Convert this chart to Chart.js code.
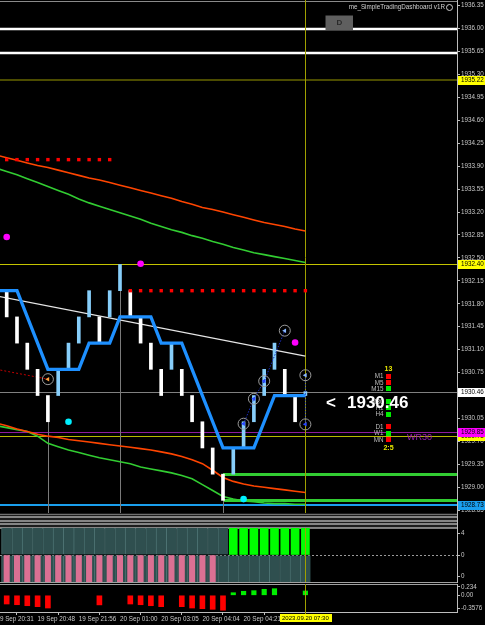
<!DOCTYPE html>
<html>
<head>
<meta charset="utf-8">
<title>XAUUSD renko</title>
<script src="https://cdn.jsdelivr.net/npm/chart.js@4.4.1/dist/chart.umd.min.js"></script>
<style>
  html, body { margin: 0; padding: 0; background: #000; }
  body { width: 485px; height: 625px; position: relative; overflow: hidden; }
  canvas { position: absolute; left: 0; }
</style>
</head>
<body>
<canvas id="priceChart" width="485" height="515" style="top:0"></canvas>
<canvas id="histChart" width="485" height="70" style="top:513px"></canvas>
<canvas id="oscChart" width="485" height="42" style="top:583px"></canvas>
<script>
// renko bricks, bar 0..29 (box 0.40)
var brickOpen  = [1932.00,1931.60,1931.20,1930.80,1930.40,1930.40,1930.80,1931.20,1931.60,1931.60,1931.60,1932.00,1932.00,1931.60,1931.20,1930.80,1930.80,1930.80,1930.40,1930.00,1929.60,1929.20,1929.20,1929.60,1930.00,1930.40,1930.80,1930.80,1930.40,1930.40];
var brickClose = [1931.60,1931.20,1930.80,1930.40,1930.00,1930.80,1931.20,1931.60,1932.00,1931.20,1932.00,1932.40,1931.60,1931.20,1930.80,1930.40,1931.20,1930.40,1930.00,1929.60,1929.20,1928.80,1929.60,1930.00,1930.40,1930.80,1931.20,1930.40,1930.00,1930.46];

// bars for the lines, -1 is just off the left edge
var lineBars = [];
for (var b = -1; b <= 29; b++) lineBars.push(b);

var stepLine   = [1932.00,1932.00,1932.00,1931.60,1931.20,1930.80,1930.80,1930.80,1930.80,1931.20,1931.20,1931.20,1931.60,1931.60,1931.60,1931.60,1931.20,1931.20,1931.20,1930.80,1930.40,1930.00,1929.60,1929.60,1929.60,1929.60,1930.00,1930.40,1930.40,1930.40,1930.40];
var maSlowHigh = [1934.07,1934.03,1933.99,1933.95,1933.91,1933.88,1933.84,1933.80,1933.76,1933.72,1933.69,1933.65,1933.61,1933.57,1933.53,1933.49,1933.45,1933.41,1933.36,1933.32,1933.27,1933.24,1933.20,1933.16,1933.12,1933.08,1933.04,1933.01,1932.98,1932.94,1932.91];
var maFastHigh = [1933.87,1933.82,1933.77,1933.71,1933.65,1933.59,1933.53,1933.47,1933.40,1933.34,1933.29,1933.24,1933.19,1933.14,1933.09,1933.03,1932.98,1932.93,1932.89,1932.84,1932.80,1932.75,1932.71,1932.66,1932.62,1932.58,1932.55,1932.52,1932.49,1932.46,1932.43];
var maSlowLow  = [1929.98,1929.94,1929.89,1929.85,1929.81,1929.78,1929.76,1929.73,1929.71,1929.69,1929.67,1929.65,1929.63,1929.61,1929.59,1929.57,1929.54,1929.51,1929.47,1929.42,1929.36,1929.26,1929.15,1929.09,1929.05,1929.02,1929.00,1928.98,1928.96,1928.94,1928.92];
var maFastLow  = [1929.94,1929.91,1929.88,1929.85,1929.78,1929.67,1929.62,1929.57,1929.53,1929.49,1929.45,1929.42,1929.39,1929.36,1929.31,1929.28,1929.25,1929.22,1929.18,1929.13,1929.04,1928.95,1928.86,1928.82,1928.79,1928.78,1928.76,1928.75,1928.75,1928.74,1928.74];
var trendBars = [-1, 29];
var trendVals = [1931.92, 1931.00];

// red dotted levels (null = no dot)
var dotLevel = [1934.00,1934.00,1934.00,1934.00,1934.00,1934.00,1934.00,1934.00,1934.00,1934.00,1934.00,null,
                1932.00,1932.00,1932.00,1932.00,1932.00,1932.00,1932.00,1932.00,1932.00,1932.00,1932.00,1932.00,1932.00,1932.00,1932.00,1932.00,1932.00,1932.00];

var magentaBars = [0, 13, 28];
var magentaVals = [1932.82, 1932.41, 1931.21];
var cyanBars = [6, 23];
var cyanVals = [1930.00, 1928.82];
var ringBars = [4, 23, 24, 25, 27, 29, 29];
var ringVals = [1930.65, 1929.97, 1930.35, 1930.62, 1931.39, 1930.71, 1929.96];
var ringFill = ['#ffa040','#2845ff','#2845ff','#2845ff','#8ab8ff','#8ab8ff','#2845ff'];
var pathBars = [23, 24, 25, 27];
var pathVals = [1929.97, 1930.35, 1930.62, 1931.39];
var dropBars = [29, 29];
var dropVals = [1930.71, 1929.96];
var leadBars = [-1, 4];
var leadVals = [1930.80, 1930.65];

// horizontal levels
var levelPrices = [1936.00, 1935.62, 1935.22, 1932.40, 1930.46, 1929.85, 1929.78, 1928.73];
var levelColors = ['#ffffff','#ffffff','#666600','#c4c400','#808080','#8e1a9e','#b8b800','#1a9fee'];
var levelWidths = [2.5, 2.5, 1.5, 1, 1, 1, 1, 2];
var boxLevels = [1929.20, 1928.80];
var boxFrom = 21;
var markBars = [4, 11, 21];
var markFrom = [1930.00, 1932.40, 1928.80];
var cursorBar = 29;

var tagPrices = [1935.22, 1932.40, 1930.46, 1929.78, 1929.85, 1928.73];
var tagColors = ['#ffff00','#ffff00','#ffffff','#ffff00','#ff00ff','#1a9fee'];

var priceTicks = [1928.65,1929.00,1929.35,1929.70,1930.05,1930.40,1930.75,1931.10,1931.45,1931.80,1932.15,1932.50,1932.85,1933.20,1933.55,1933.90,1934.25,1934.60,1934.95,1935.30,1935.65,1936.00,1936.35];

// dashboard
var dashRows  = ['M1','M5','M15','','M30','H1','H4','','D1','W1','MN'];
var dashState = [-1,-1,1,0,1,1,1,0,-1,1,-1];

// histogram window
var histTopGreen = [0,0,0,0,0,0,0,0,0,0,0,0,0,0,0,0,0,0,0,0,0,0,1,1,1,1,1,1,1,1];
var histLowPink  = [1,1,1,1,1,1,1,1,1,1,1,1,1,1,1,1,1,1,1,1,1,0,0,0,0,0,0,0,0,0];
var histFull = 5;
var histTicks = [4, 0, -4];
var histTickText = ['4', '0', '0'];

// oscillator window
var oscVals = [-0.245,-0.265,-0.293,-0.320,-0.358,null,null,null,null,-0.270,null,null,-0.245,-0.265,-0.293,-0.320,null,-0.320,-0.358,-0.377,-0.394,-0.420,0.073,0.113,0.130,0.169,0.186,null,null,0.121];
var oscTicks = [0.234, 0, -0.3576];
var oscTickText = ['0.234', '0.00', '-0.3576'];

var timeBars = [-1, 3, 7, 11, 15, 19, 23, 27];
var timeLabels = ['19 Sep 20:31','19 Sep 20:48','19 Sep 21:56','20 Sep 01:00','20 Sep 03:05','20 Sep 04:04','20 Sep 04:21',''];
var cursorTime = '2023.09.20 07:30';

var X_MIN = -0.65, X_MAX = 43.72, AXIS_W = 28;
var FONT = '"Liberation Sans"';
var axisFont = {family: 'Liberation Sans', size: 6.3};

function pts(bars, vals) {
  return vals.map(function (v, i) { return {x: bars[i], y: v}; });
}

function xAxis() {
  return {type: 'linear', min: X_MIN, max: X_MAX, offset: false, display: false, grid: {display: false}};
}

function yAxis(min, max, ticks, text) {
  return {
    type: 'linear', position: 'right', min: min, max: max,
    afterBuildTicks: function (s) { s.ticks = ticks.map(function (v) { return {value: v}; }); },
    afterFit: function (s) { s.width = AXIS_W; s.paddingTop = 0; s.paddingBottom = 0; },
    ticks: {
      autoSkip: false, color: '#c8c8c8', font: axisFont, padding: 1,
      callback: function (v, i) { return text ? text[i] : v.toFixed(2); }
    },
    grid: {drawOnChartArea: false, color: '#bdbdbd', tickLength: 3},
    border: {color: '#bdbdbd'}
  };
}

function hline(ctx, x1, x2, y, color, w) {
  ctx.beginPath();
  ctx.strokeStyle = color;
  ctx.lineWidth = w;
  var yy = w % 2 === 1 ? Math.round(y) + 0.5 : Math.round(y);
  ctx.moveTo(x1, yy);
  ctx.lineTo(x2, yy);
  ctx.stroke();
}

function vline(ctx, x, y1, y2, color, w) {
  ctx.beginPath();
  ctx.strokeStyle = color;
  ctx.lineWidth = w;
  var xx = Math.round(x) + 0.5;
  ctx.moveTo(xx, y1);
  ctx.lineTo(xx, y2);
  ctx.stroke();
}

var baseOptions = {
  responsive: false, animation: false, events: [],
  plugins: {legend: {display: false}, tooltip: {enabled: false}}
};

// ---------- main price window ----------
var priceOverlay = {
  id: 'priceOverlay',
  beforeDatasetsDraw: function (chart) {
    var ctx = chart.ctx, a = chart.chartArea, x = chart.scales.x, y = chart.scales.y;
    ctx.save();
    hline(ctx, a.left, a.right, 1, '#8a8a8a', 1);
    levelPrices.forEach(function (p, i) {
      hline(ctx, a.left, a.right, y.getPixelForValue(p), levelColors[i], levelWidths[i]);
    });
    boxLevels.forEach(function (p) {
      hline(ctx, x.getPixelForValue(boxFrom), a.right, y.getPixelForValue(p), '#32cd32', 3);
    });
    markBars.forEach(function (bar, i) {
      vline(ctx, x.getPixelForValue(bar), y.getPixelForValue(markFrom[i]), a.bottom, '#7a7a7a', 1);
    });
    vline(ctx, x.getPixelForValue(cursorBar), a.top, a.bottom, '#a0a000', 1);
    ctx.restore();
  },
  afterDraw: function (chart) {
    var ctx = chart.ctx, a = chart.chartArea, y = chart.scales.y;
    ctx.save();
    // price tags on the axis
    ctx.textBaseline = 'middle';
    ctx.textAlign = 'left';
    tagPrices.forEach(function (p, i) {
      var py = Math.round(y.getPixelForValue(p));
      ctx.fillStyle = tagColors[i];
      ctx.fillRect(a.right + 1, py - 4, AXIS_W - 1, 9);
      ctx.fillStyle = '#000';
      ctx.font = '6.3px ' + FONT;
      ctx.fillText(p.toFixed(2), a.right + 4, py + 0.5);
    });

    // header and button
    ctx.fillStyle = '#d0d0d0';
    ctx.font = '6.3px ' + FONT;
    ctx.textAlign = 'right';
    ctx.fillText('me_SimpleTradingDashboard v1R', 445, 7.5);
    ctx.beginPath();
    ctx.strokeStyle = '#d0d0d0';
    ctx.lineWidth = 1;
    ctx.arc(449.5, 7.5, 3, 0, Math.PI * 2);
    ctx.stroke();
    ctx.fillStyle = '#5f5f5f';
    ctx.fillRect(325.5, 15.5, 27.5, 14.5);
    ctx.fillStyle = '#2a2a2a';
    ctx.font = 'bold 8px ' + FONT;
    ctx.textAlign = 'center';
    ctx.fillText('D', 339.5, 23);

    // dashboard
    ctx.fillStyle = '#e8e800';
    ctx.font = 'bold 7px ' + FONT;
    ctx.fillText('13', 388.5, 369.5);
    ctx.fillText('2:5', 388.5, 448);
    ctx.font = '6.3px ' + FONT;
    ctx.textAlign = 'right';
    dashRows.forEach(function (name, k) {
      var ry = 376 + k * 6.35;
      ctx.fillStyle = '#bdbdbd';
      if (name) ctx.fillText(name, 383.5, ry + 0.5);
      if (dashState[k] !== 0) {
        ctx.fillStyle = dashState[k] > 0 ? '#00ee00' : '#ff0000';
        ctx.fillRect(386, Math.round(ry - 2.4), 5, 5);
      }
    });

    // big price readout
    ctx.fillStyle = '#ffffff';
    ctx.font = 'bold 17px ' + FONT;
    ctx.textAlign = 'left';
    ctx.textBaseline = 'alphabetic';
    ctx.fillText('<', 326, 408);
    ctx.fillText(brickClose[brickClose.length - 1].toFixed(2), 347, 408);

    ctx.fillStyle = '#9b1fb5';
    ctx.font = '9px ' + FONT;
    ctx.fillText('WR30', 407, 440);
    ctx.restore();
  }
};

function lineSet(bars, vals, color, width, order, dash) {
  return {
    type: 'line', data: pts(bars, vals), borderColor: color, borderWidth: width,
    borderDash: dash || [], pointRadius: 0, tension: 0, order: order
  };
}

function dotSet(bars, vals, color, radius, style, order) {
  return {
    type: 'line', data: pts(bars, vals), showLine: false, pointStyle: style,
    pointRadius: radius, pointBackgroundColor: color, pointBorderWidth: 0, order: order
  };
}

var dotBars = dotLevel.map(function (v, i) { return i; });

new Chart(document.getElementById('priceChart'), {
  type: 'line',
  data: {
    datasets: [
      lineSet(lineBars, maSlowHigh, '#ff4500', 1.6, 6),
      lineSet(lineBars, maFastHigh, '#32cd32', 1.6, 6),
      lineSet(lineBars, maSlowLow, '#ff4500', 1.6, 6),
      lineSet(lineBars, maFastLow, '#32cd32', 1.6, 6),
      lineSet(trendBars, trendVals, '#e6e6e6', 1.3, 5),
      lineSet(leadBars, leadVals, '#c00000', 1, 5, [2, 2]),
      {
        type: 'bar',
        data: brickOpen.map(function (o, i) { return {x: i, y: [o, brickClose[i]]}; }),
        backgroundColor: function (c) {
          var i = c.dataIndex;
          return brickClose[i] > brickOpen[i] ? '#87cefa' : '#ffffff';
        },
        barThickness: 3,
        order: 3
      },
      lineSet(lineBars, stepLine, '#1e90ff', 3.3, 2),
      dotSet(dotBars, dotLevel, '#ff0000', 2.4, 'rect', 1),
      dotSet(magentaBars, magentaVals, '#ff00ff', 3.3, 'circle', 1),
      dotSet(cyanBars, cyanVals, '#00f0ff', 3.3, 'circle', 1),
      lineSet(pathBars, pathVals, '#1a2fc0', 1, 1, [1.5, 1.5]),
      lineSet(dropBars, dropVals, '#1a2fc0', 1, 1, [1.5, 1.5]),
      {
        type: 'line', data: pts(ringBars, ringVals), showLine: false, pointStyle: 'circle',
        pointRadius: 5.5, pointBackgroundColor: 'rgba(0,0,0,0)', pointBorderColor: '#9a9a9a',
        pointBorderWidth: 1, order: 0
      },
      {
        type: 'line', data: pts(ringBars, ringVals), showLine: false, pointStyle: 'triangle',
        pointRotation: -90, pointRadius: 2.6, pointBackgroundColor: ringFill, pointBorderWidth: 0, order: -1
      }
    ]
  },
  options: Object.assign({}, baseOptions, {
    layout: {padding: 0, autoPadding: false},
    scales: {x: xAxis(), y: yAxis(1928.577, 1936.436, priceTicks, null)}
  }),
  plugins: [priceOverlay]
});

// ---------- histogram window ----------
var histOverlay = {
  id: 'histOverlay',
  beforeDraw: function (chart) {
    var ctx = chart.ctx, a = chart.chartArea;
    ctx.save();
    ctx.fillStyle = '#1c1c1c';
    ctx.fillRect(0, 0, a.right, 15);
    hline(ctx, 0, a.right, 0.5, '#707070', 1);
    [3.5, 7.5, 11, 14.5].forEach(function (yy) { hline(ctx, 0, a.right, yy, '#a8a8a8', 1.5); });
    vline(ctx, a.right - 0.5, 0, 15, '#bdbdbd', 1);
    hline(ctx, 0, a.right, a.bottom, '#a0a0a0', 1);
    ctx.restore();
  },
  beforeDatasetsDraw: function (chart) {
    var ctx = chart.ctx, a = chart.chartArea, y = chart.scales.y;
    ctx.save();
    ctx.setLineDash([2, 2]);
    hline(ctx, a.left, a.right, y.getPixelForValue(0), '#9a9a9a', 1);
    ctx.restore();
  },
  afterDatasetsDraw: function (chart) {
    var ctx = chart.ctx, a = chart.chartArea;
    ctx.save();
    vline(ctx, chart.scales.x.getPixelForValue(cursorBar), a.top, a.bottom, '#a0a000', 1);
    ctx.restore();
  }
};

function histBars(flags, want, value) {
  return flags.map(function (f, i) { return {x: i, y: f === want ? value : null}; });
}

var slateEdge = {left: 1, right: 0, top: 0, bottom: 0};

new Chart(document.getElementById('histChart'), {
  type: 'bar',
  data: {
    datasets: [
      {data: histBars(histTopGreen, 1, histFull), backgroundColor: '#00ff00', barThickness: 8, grouped: false, order: 0},
      {data: histBars(histTopGreen, 0, histFull), backgroundColor: '#2f4f4f', borderColor: '#4d7373',
       borderWidth: slateEdge, borderSkipped: false, barThickness: 10.3, grouped: false, order: 2},
      {data: histBars(histLowPink, 1, -histFull), backgroundColor: '#db7093', barThickness: 5.4, grouped: false, order: 0},
      {data: histLowPink.map(function (f, i) { return {x: i, y: -histFull}; }), backgroundColor: '#2f4f4f',
       borderColor: '#4d7373', borderWidth: slateEdge, borderSkipped: false, barThickness: 10.3, grouped: false, order: 2}
    ]
  },
  options: Object.assign({}, baseOptions, {
    layout: {padding: {top: 15, bottom: 1, left: 0, right: 0}, autoPadding: false},
    scales: {x: xAxis(), y: yAxis(-5, 5, histTicks, histTickText)}
  }),
  plugins: [histOverlay]
});

// ---------- oscillator window with time axis ----------
var oscOverlay = {
  id: 'oscOverlay',
  beforeDraw: function (chart) {
    var ctx = chart.ctx, a = chart.chartArea;
    ctx.save();
    hline(ctx, 0, a.right, 0.5, '#a0a0a0', 1);
    ctx.restore();
  },
  afterDatasetsDraw: function (chart) {
    var ctx = chart.ctx, a = chart.chartArea;
    ctx.save();
    vline(ctx, chart.scales.x.getPixelForValue(cursorBar), a.top, a.bottom + 2, '#a0a000', 1);
    ctx.restore();
  },
  afterDraw: function (chart) {
    var ctx = chart.ctx, a = chart.chartArea;
    var cx = chart.scales.x.getPixelForValue(cursorBar);
    ctx.save();
    ctx.font = '6px ' + FONT;
    var w = ctx.measureText(cursorTime).width + 5;
    ctx.fillStyle = '#ffff00';
    ctx.fillRect(Math.round(cx - w / 2), a.bottom + 2, Math.round(w), 8);
    ctx.fillStyle = '#000';
    ctx.textAlign = 'center';
    ctx.textBaseline = 'middle';
    ctx.fillText(cursorTime, cx, a.bottom + 6.5);
    ctx.restore();
  }
};

new Chart(document.getElementById('oscChart'), {
  type: 'bar',
  data: {
    datasets: [
      {data: oscVals.map(function (v, i) { return {x: i, y: v !== null && v < 0 ? v : null}; }),
       backgroundColor: '#ff0000', barThickness: 5, grouped: false},
      {data: oscVals.map(function (v, i) { return {x: i, y: v !== null && v > 0 ? v : null}; }),
       backgroundColor: '#00ee00', barThickness: 4.5, grouped: false}
    ]
  },
  options: Object.assign({}, baseOptions, {
    layout: {padding: {top: 1, bottom: 0, left: 0, right: 0}, autoPadding: false},
    scales: {
      x: {
        type: 'linear', min: X_MIN, max: X_MAX, offset: false, position: 'bottom',
        afterBuildTicks: function (s) { s.ticks = timeBars.map(function (v) { return {value: v}; }); },
        afterFit: function (s) { s.height = 13; s.paddingLeft = 0; s.paddingRight = 0; },
        ticks: {
          autoSkip: false, maxRotation: 0, minRotation: 0, align: 'start', padding: 0,
          color: '#c8c8c8', font: axisFont,
          callback: function (v, i) { return timeLabels[i]; }
        },
        grid: {drawOnChartArea: false, color: '#bdbdbd', tickLength: 3},
        border: {color: '#bdbdbd'}
      },
      y: yAxis(-0.47, 0.318, oscTicks, oscTickText)
    }
  }),
  plugins: [oscOverlay]
});
</script>
</body>
</html>
